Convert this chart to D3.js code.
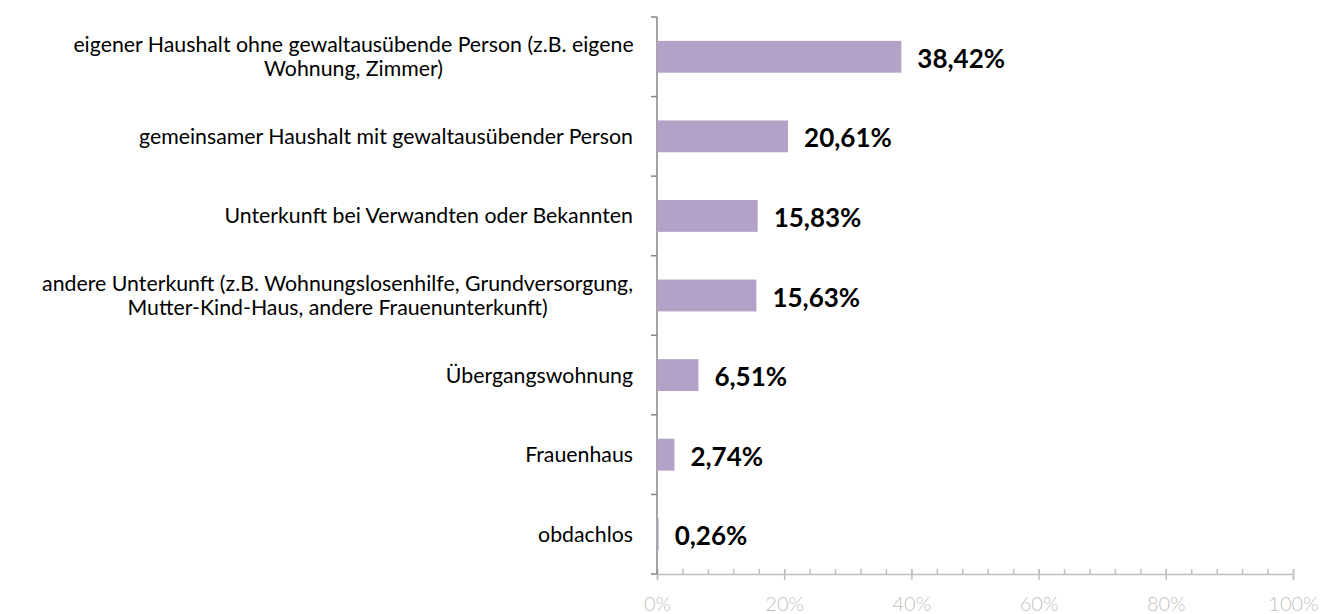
<!DOCTYPE html>
<html>
<head>
<meta charset="utf-8">
<script src="https://cdn.jsdelivr.net/npm/d3@7"></script>
<style>
  body { margin: 0; background: #fff; }
  svg text { font-family: Lato, "Open Sans", sans-serif; }
</style>
</head>
<body>
<div id="chart"></div>
<script>
// categories (top to bottom) and their shares in percent
const categories = [
  ["eigener Haushalt ohne gewaltausübende Person (z.B. eigene", "Wohnung, Zimmer)"],
  ["gemeinsamer Haushalt mit gewaltausübender Person"],
  ["Unterkunft bei Verwandten oder Bekannten"],
  ["andere Unterkunft (z.B. Wohnungslosenhilfe, Grundversorgung,", "Mutter-Kind-Haus, andere Frauenunterkunft)"],
  ["Übergangswohnung"],
  ["Frauenhaus"],
  ["obdachlos"]
];
const values = [38.42, 20.61, 15.83, 15.63, 6.51, 2.74, 0.26];
const xTicks = [0, 20, 40, 60, 80, 100];

const W = 1322, H = 614;
const margin = {top: 17, right: 29, bottom: 40, left: 657};
const width = W - margin.left - margin.right,
      height = H - margin.top - margin.bottom;

const svg = d3.select("#chart").append("svg")
  .attr("width", W).attr("height", H)
  .append("g")
  .attr("transform", `translate(${margin.left}, ${margin.top})`);

const idx = d3.range(values.length);

const x = d3.scaleLinear().domain([0, 100]).range([0, width]);
const y = d3.scaleBand().domain(idx).range([0, height]).paddingInner(0.6).paddingOuter(0.3);

// minor ticks (every 4%) pointing up
svg.append("g")
  .attr("transform", `translate(0, ${height})`)
  .call(d3.axisTop(x).tickValues(d3.range(0, 101, 4)).tickSize(5).tickFormat(""))
  .call(g => g.select(".domain").remove())
  .call(g => g.selectAll("line").attr("stroke", "#bfbfbf").attr("stroke-width", 1.5));

// major ticks crossing the axis
svg.append("g")
  .attr("transform", `translate(0, ${height})`)
  .call(d3.axisBottom(x).tickValues(xTicks).tickSize(6).tickFormat(d => d + "%").tickPadding(17))
  .call(g => g.select(".domain").attr("stroke", "#bfbfbf").attr("stroke-width", 1.5))
  .call(g => g.selectAll("line").attr("stroke", "#bfbfbf").attr("stroke-width", 1.5).attr("y1", -5))
  .call(g => g.selectAll("text").attr("fill", "#bfbfbf").style("font-size", "20px").style("font-weight", 300));

// y axis with boundary ticks
const bounds = d3.range(values.length + 1).map(i => i * height / values.length);
const yAxis = svg.append("g");
yAxis.append("line")
  .attr("x1", 0).attr("x2", 0).attr("y1", 0).attr("y2", height)
  .attr("stroke", "#868686").attr("stroke-width", 1.5);
yAxis.selectAll("line.tk").data(bounds).join("line")
  .attr("class", "tk")
  .attr("x1", -6).attr("x2", 0)
  .attr("y1", d => d).attr("y2", d => d)
  .attr("stroke", "#868686").attr("stroke-width", 1.5);

// category labels: block right-aligned, lines centred within it
const labelRight = -24;
const lab = svg.append("g").selectAll("text").data(idx).join("text")
  .attr("text-anchor", "middle")
  .attr("y", i => y(i) + y.bandwidth() / 2)
  .style("font-size", "21.3px")
  .attr("fill", "#000");
lab.each(function(i) {
  const lines = categories[i];
  const t = d3.select(this);
  const spans = lines.map((l, k) =>
    t.append("tspan")
      .attr("dy", k === 0 ? (0.35 - (lines.length - 1) * 0.57) + "em" : "1.14em")
      .text(l));
  const maxW = d3.max(spans, s => s.node().getComputedTextLength());
  spans.forEach(s => s.attr("x", labelRight - maxW / 2));
});

// bars
svg.selectAll("rect.bar").data(idx).join("rect")
  .attr("class", "bar")
  .attr("x", 0)
  .attr("y", i => y(i))
  .attr("width", i => x(values[i]))
  .attr("height", y.bandwidth())
  .attr("fill", "#b3a2c7");

// value labels
svg.selectAll("text.val").data(idx).join("text")
  .attr("class", "val")
  .attr("x", i => x(values[i]) + 16)
  .attr("y", i => y(i) + y.bandwidth() / 2 + 2)
  .attr("dy", "0.35em")
  .style("font-size", "26px")
  .style("font-weight", "bold")
  .attr("fill", "#000")
  .text(i => values[i].toFixed(2).replace(".", ",") + "%");
</script>
</body>
</html>
